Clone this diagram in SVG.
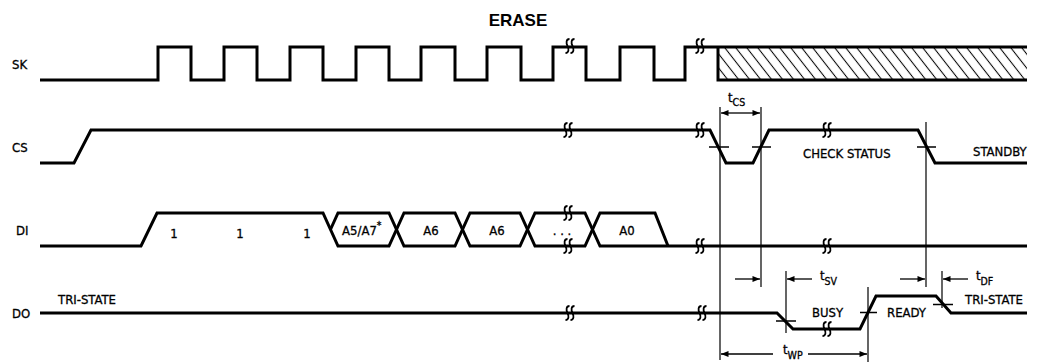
<svg xmlns="http://www.w3.org/2000/svg" xmlns:xlink="http://www.w3.org/1999/xlink" width="1047" height="362" viewBox="0 0 1047 362">
<style>
.sig{fill:none;stroke:#000;stroke-width:3;stroke-linejoin:miter}
.brk{fill:none;stroke:#000;stroke-width:1.8}
.thin{fill:none;stroke:#000;stroke-width:1.2}
.tick{fill:none;stroke:#000;stroke-width:1.4}
.arr{fill:none;stroke:#000;stroke-width:1.3}
text{font-family:"DejaVu Sans Condensed","DejaVu Sans",sans-serif;font-stretch:condensed;font-size:13px;fill:#000;stroke:#000;stroke-width:0.3}
.sub{font-size:10.5px}
.title{font-family:"Liberation Sans",Arial,sans-serif;font-weight:bold;font-size:17px;font-stretch:normal;stroke:none}
</style>
<defs>
<g id="bk">
<path class="brk" d="M-0.5,-7 C-4,-7 -4,-3 -2.5,0 C-1,3 -1,7 -4.5,7"/>
<path class="brk" d="M4.5,-7 C1,-7 1,-3 2.5,0 C4,3 4,7 0.5,7"/>
</g>
<pattern id="hatch" patternUnits="userSpaceOnUse" width="11" height="40" patternTransform="skewX(38)">
<line x1="5.5" y1="-1" x2="5.5" y2="41" stroke="#000" stroke-width="1.3"/>
</pattern>
<marker id="ah" viewBox="0 0 10 8" refX="10" refY="4" markerWidth="8" markerHeight="6" markerUnits="userSpaceOnUse" orient="auto">
<path d="M0,0 L10,4 L0,8 Z" fill="#000"/>
</marker>
</defs>
<text class="title" x="518" y="26" text-anchor="middle">ERASE</text>
<g id="SK">
<text x="12" y="69">SK</text>
<rect x="718" y="47" width="309" height="33" fill="url(#hatch)"/>
<path class="sig" d="M40,80 H158 V47 H191 V80 H224 V47 H257 V80 H290 V47 H323 V80 H356 V47 H389 V80 H421 V47 H455 V80 H487 V47 H521 V80 H553 V47 H586 V80 H620 V47 H654 V80 H685 V47 H1027 M718,47 V80 H1027"/>
<use xlink:href="#bk" x="570" y="46"/>
<use xlink:href="#bk" x="700" y="46"/>
</g>
<g id="CS">
<text x="12" y="152">CS</text>
<path class="sig" d="M40,163 H74 L91,130 H710 L726,163 H753 L769,130 H918 L935,163 H1027"/>
<use xlink:href="#bk" x="568" y="130"/>
<use xlink:href="#bk" x="700" y="130"/>
<use xlink:href="#bk" x="827" y="130"/>
<path class="tick" d="M709,147 H729 M752,147 H771 M917,147 H936"/>
<text x="803" y="158">CHECK STATUS</text>
<text x="973" y="156">STANDBY</text>
</g>
<g id="DI">
<text x="16" y="235">DI</text>
<path class="sig" d="M40,246 H141 L157,213 H323 L338,246 H389 L404,213 H455 L470,246 H520 L535,213 H585 L600,246 H1027"/>
<path class="sig" d="M330.5,229.5 L338,213 H389 L404,246 H455 L470,213 H520 L535,246 H585 L600,213 H655 L668,246"/>
<use xlink:href="#bk" x="568" y="213"/>
<use xlink:href="#bk" x="568" y="246"/>
<use xlink:href="#bk" x="700" y="246"/>
<use xlink:href="#bk" x="827" y="246"/>
<text x="174" y="238" text-anchor="middle">1</text>
<text x="240" y="238" text-anchor="middle">1</text>
<text x="307" y="238" text-anchor="middle">1</text>
<text x="342" y="235">A5/A7<tspan class="sub" dy="-6">*</tspan></text>
<text x="431" y="235" text-anchor="middle">A6</text>
<text x="497" y="235" text-anchor="middle">A6</text>
<text x="562" y="235" text-anchor="middle">. . .</text>
<text x="627" y="235" text-anchor="middle">A0</text>
</g>
<g id="DO">
<text x="12" y="318">DO</text>
<text x="58" y="304">TRI-STATE</text>
<path class="sig" d="M40,313 H777 L793,329 H860 L876,296 H936 L951,313 H1027"/>
<use xlink:href="#bk" x="570" y="313"/>
<use xlink:href="#bk" x="702" y="313"/>
<use xlink:href="#bk" x="827" y="329"/>
<path class="tick" d="M776,321 H796 M860,312.5 H877 M933,304.5 H953"/>
<text x="812" y="317">BUSY</text>
<text x="887" y="317">READY</text>
<text x="965" y="304">TRI-STATE</text>
</g>
<g id="connectors">
<path class="thin" d="M720,107 V360 M761,107 V287 M926,122 V287 M786,271 V333 M868,287 V362 M942,271 V308"/>
<line class="arr" x1="740" y1="113" x2="721" y2="113" marker-end="url(#ah)"/>
<line class="arr" x1="740" y1="113" x2="760" y2="113" marker-end="url(#ah)"/>
<line class="arr" x1="735" y1="279" x2="760" y2="279" marker-end="url(#ah)"/>
<line class="arr" x1="812" y1="279" x2="787" y2="279" marker-end="url(#ah)"/>
<line class="arr" x1="900" y1="279" x2="925" y2="279" marker-end="url(#ah)"/>
<line class="arr" x1="968" y1="279" x2="943" y2="279" marker-end="url(#ah)"/>
<line class="arr" x1="773" y1="354" x2="721" y2="354" marker-end="url(#ah)"/>
<line class="arr" x1="808" y1="354" x2="867" y2="354" marker-end="url(#ah)"/>
<text x="728" y="102">t<tspan class="sub" dy="4">CS</tspan></text>
<text x="820" y="280">t<tspan class="sub" dy="5">SV</tspan></text>
<text x="976" y="280">t<tspan class="sub" dy="5">DF</tspan></text>
<text x="783" y="354">t<tspan class="sub" dy="5">WP</tspan></text>
</g>
</svg>
